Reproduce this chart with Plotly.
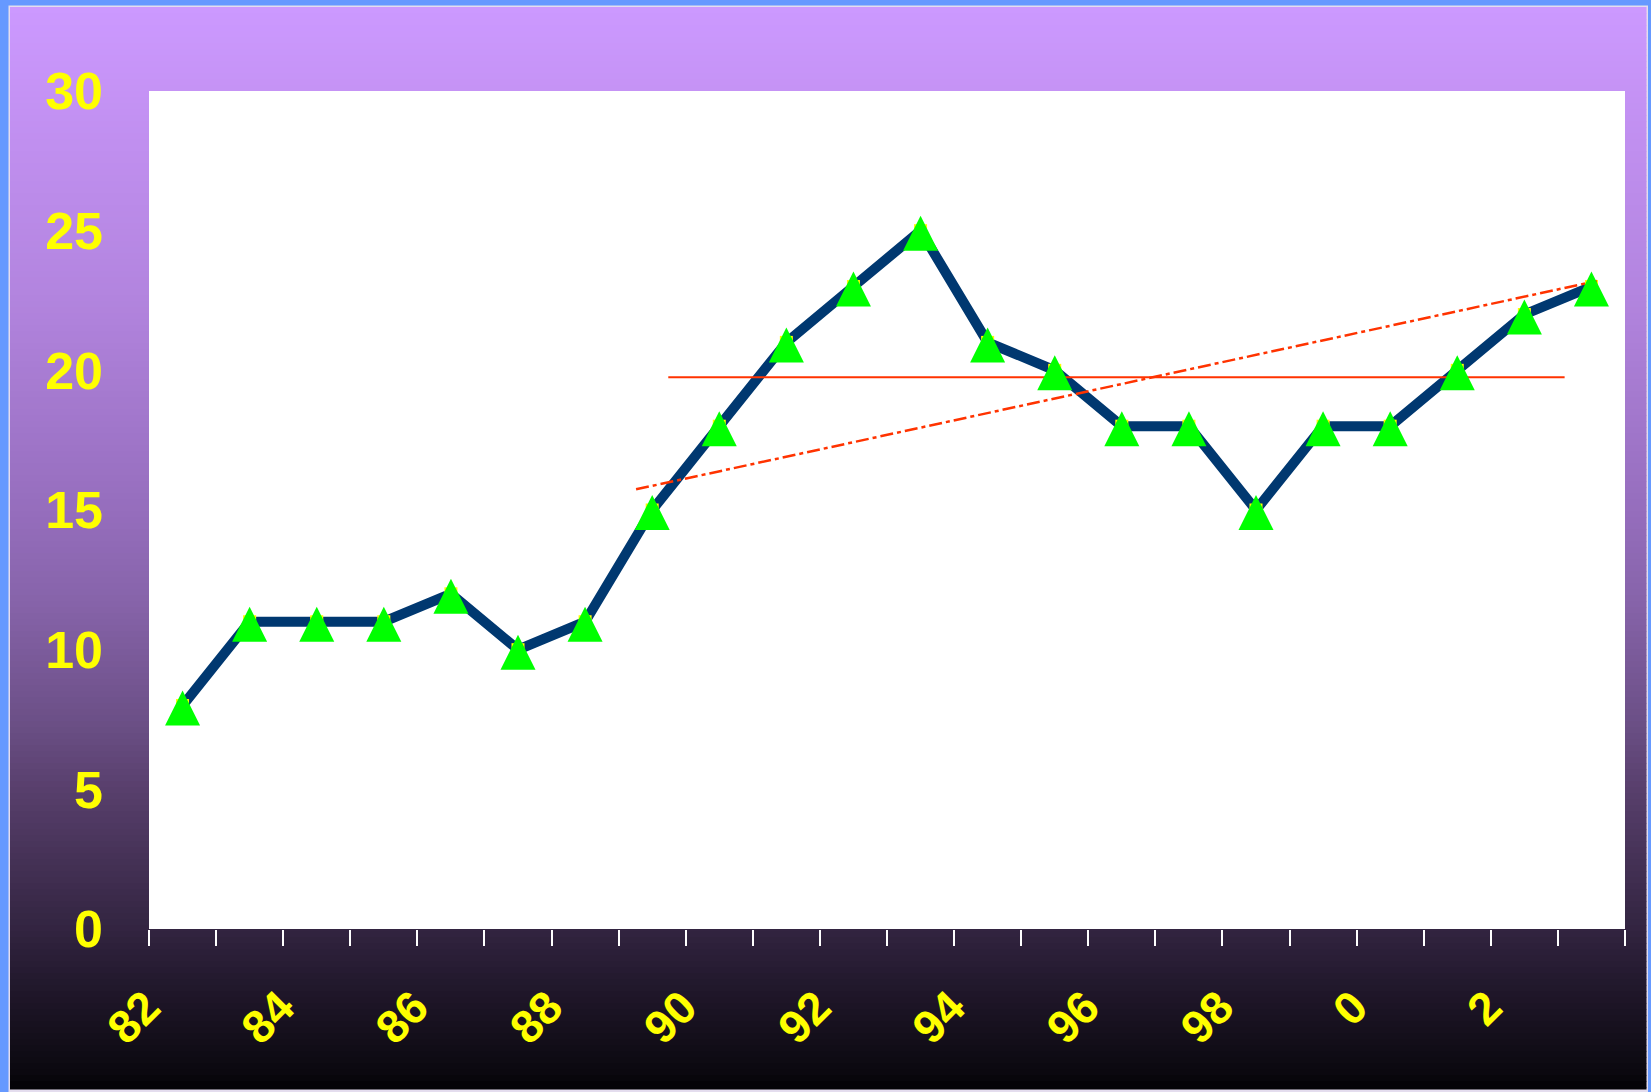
import plotly.graph_objects as go

# ---- data ----
years = ["82", "83", "84", "85", "86", "87", "88", "89", "90", "91", "92",
         "93", "94", "95", "96", "97", "98", "99", "0", "1", "2", "3"]
values = [8, 11, 11, 11, 12, 10, 11, 15, 18, 21, 23,
          25, 21, 20, 18, 18, 15, 18, 18, 20, 22, 23]
label_years = ["82", "84", "86", "88", "90", "92", "94", "96", "98", "0", "2"]
y_ticks = [0, 5, 10, 15, 20, 25, 30]

# reference lines (x in category-index units)
mean_x = [7.24, 20.6]
mean_y = [19.75, 19.75]
trend_x = [6.76, 21.08]
trend_y = [15.74, 23.2]

# ---- layout geometry ----
W, H = 1651, 1092
L, R, T, B = 149, 1625, 91, 929
pw, ph = R - L, B - T


def px(X):
    return (X - L) / pw


def py(Y):
    return (B - Y) / ph


xs = list(range(len(years)))
label_pos = [years.index(y) for y in label_years]

fig = go.Figure()

fig.add_trace(go.Scatter(x=xs, y=values, mode="lines",
                         line=dict(color="#003870", width=10),
                         hoverinfo="skip", showlegend=False, cliponaxis=False))
fig.add_trace(go.Scatter(x=xs, y=values, mode="markers",
                         marker=dict(symbol="square", size=13, color="#FFFF00"),
                         showlegend=False, cliponaxis=False))
fig.add_trace(go.Scatter(x=xs, y=values, mode="markers", yaxis="y2",
                         marker=dict(symbol="arrow-up", size=35, color="#00FF00",
                                     line=dict(width=0)),
                         showlegend=False, cliponaxis=False))
fig.add_trace(go.Scatter(x=mean_x, y=mean_y, mode="lines",
                         line=dict(color="#FF3300", width=2),
                         showlegend=False, cliponaxis=False))
fig.add_trace(go.Scatter(x=trend_x, y=trend_y, mode="lines",
                         line=dict(color="#FF3300", width=2.5, dash="13px,4px,4px,4px"),
                         showlegend=False, cliponaxis=False))

# ---- background gradient ----
stops = [
    (7, (204, 153, 255)),
    (100, (196, 146, 244)),
    (300, (178, 132, 222)),
    (505, (150, 110, 190)),
    (600, (135, 100, 170)),
    (720, (108, 80, 135)),
    (790, (88, 63, 108)),
    (930, (50, 36, 64)),
    (980, (35, 25, 46)),
    (1074, (10, 8, 14)),
    (1085, (4, 3, 6)),
]


def color_at(y):
    for (y0, c0), (y1, c1) in zip(stops[:-1], stops[1:]):
        if y0 <= y <= y1:
            t = (y - y0) / (y1 - y0)
            return tuple(round(a + (b - a) * t) for a, b in zip(c0, c1))
    return stops[-1][1] if y > stops[-1][0] else stops[0][1]


shapes = []
shapes.append(dict(type="rect", xref="paper", yref="paper", layer="below",
                   x0=px(8.5), x1=px(1648), y0=py(1092), y1=py(5.5),
                   fillcolor="#E4DDEE", line=dict(width=0)))
step = 6
y = 7
while y < 1089:
    y2 = min(y + step, 1089)
    c = color_at((y + y2) / 2)
    shapes.append(dict(type="rect", xref="paper", yref="paper", layer="below",
                       x0=px(10), x1=px(1646.5), y0=py(y2 + 0.6), y1=py(y),
                       fillcolor="rgb(%d,%d,%d)" % c, line=dict(width=0)))
    y = y2
shapes.append(dict(type="rect", xref="paper", yref="paper", layer="below",
                   x0=0, x1=1, y0=0, y1=1, fillcolor="#FFFFFF", line=dict(width=0)))

shift = 15 / (ph / 30)

fig.update_layout(
    width=W, height=H,
    margin=dict(l=L, r=W - R, t=T, b=H - B, pad=0),
    paper_bgcolor="#6699FF",
    plot_bgcolor="rgba(0,0,0,0)",
    shapes=shapes,
    showlegend=False,
    xaxis=dict(
        range=[-0.5, len(years) - 0.5],
        tickmode="array", tickvals=label_pos, ticktext=label_years,
        tickangle=-45, ticks="", showgrid=False, zeroline=False,
        showline=False,
        tickfont=dict(family="Liberation Sans", size=46, color="#FFFF00", weight="bold"),
        ticklabelstandoff=41,
        ticklabelshift=-36,
        minor=dict(tick0=-0.5, dtick=1, ticks="outside", ticklen=16,
                   tickwidth=2, tickcolor="#FFFFFF", showgrid=False),
    ),
    yaxis=dict(
        range=[0, 30], tickmode="array", tickvals=y_ticks,
        ticks="", showgrid=False, zeroline=False, showline=False,
        tickfont=dict(family="Liberation Sans", size=52, color="#FFFF00", weight="bold"),
        ticklabelstandoff=45,
    ),
    yaxis2=dict(range=[-shift, 30 - shift], overlaying="y", visible=False),
)

fig.write_html("out.html")
